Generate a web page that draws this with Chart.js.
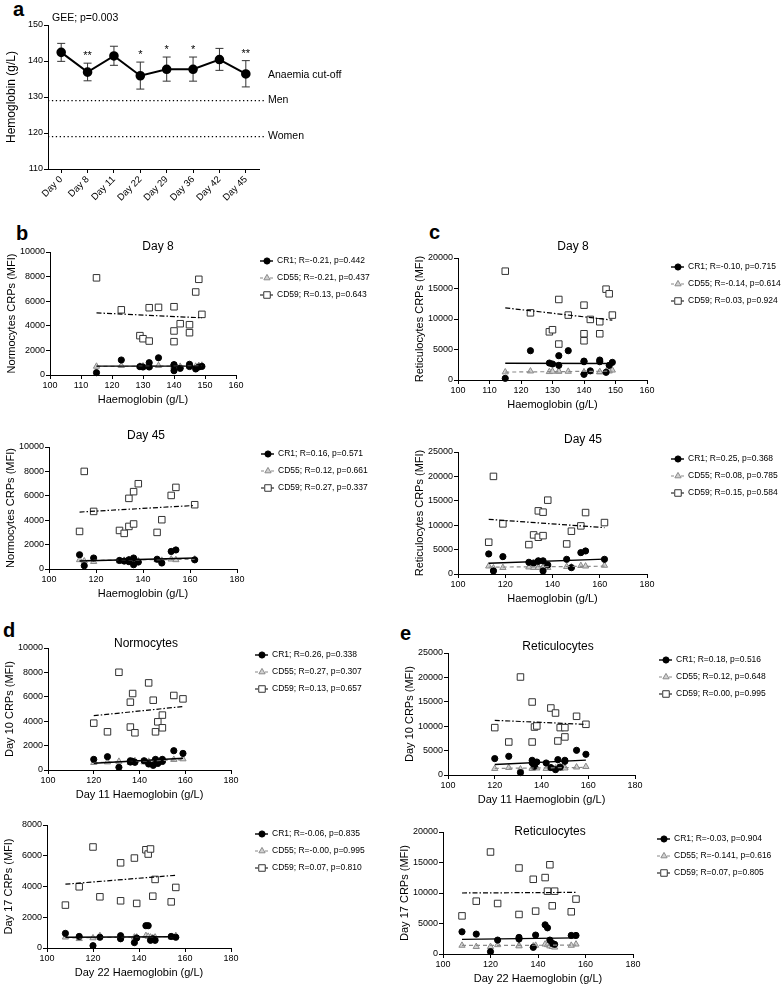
<!DOCTYPE html>
<html>
<head>
<meta charset="utf-8">
<title>Haemoglobin and complement regulatory proteins</title>
<script src="https://cdn.jsdelivr.net/npm/chart.js@4.4.1/dist/chart.umd.min.js"></script>
<style>
  html, body { margin: 0; padding: 0; background: #fff; }
  body { position: relative; width: 784px; height: 986px; overflow: hidden; font-family: "Liberation Sans", Arial, sans-serif; }
  .panel { position: absolute; }
  .letter { position: absolute; font-weight: bold; font-size: 20px; line-height: 20px; color: #000; }
</style>
</head>
<body>
<div class="letter" style="left:13px;top:-1px">a</div>
<div class="letter" style="left:16px;top:223px">b</div>
<div class="letter" style="left:429px;top:222px">c</div>
<div class="letter" style="left:3px;top:620px">d</div>
<div class="letter" style="left:400px;top:623px">e</div>
<script>
// ---- panel a: haemoglobin over time (mean with error bars) ----
const days = ["Day 0", "Day 8", "Day 11", "Day 22", "Day 29", "Day 36", "Day 42", "Day 45"];
const hbMean = [142.4, 136.9, 141.4, 135.9, 137.7, 137.7, 140.4, 136.4];
const hbLow = [139.9, 134.5, 138.8, 132.2, 134.4, 134.4, 137.4, 132.8];
const hbHigh = [144.9, 139.4, 144.1, 139.7, 141.1, 141.1, 143.5, 140.1];
const hbStars = ["", "**", "", "*", "*", "*", "", "**"];
const cutMen = 129;
const cutWomen = 119;

// ---- haemoglobin (g/L) of each subject ----
const hbDay8 = [115, 123, 129, 130, 132, 132, 135, 140, 140, 140, 142, 145, 145, 147, 148, 149];
const hbDay45 = [113, 115, 119, 130, 132, 134, 134, 136, 136, 138, 146, 148, 152, 154, 162];
const hbDay11 = [120, 126, 131, 136, 136, 137, 138, 142, 144, 146, 147, 148, 150, 150, 155, 159];
const hbDay22 = [108, 114, 120, 123, 132, 132, 138, 139, 143, 144, 145, 146, 147, 154, 156];

// ---- CRP expression (MFI), same subject order as the Hb arrays ----
const normoDay8CR1 = [190, 1220, 680, 650, 1000, 650, 1400, 800, 350, 840, 540, 870, 690, 490, 650, 700];
const normoDay8CD55 = [700, 760, 700, 720, 680, 720, 760, 650, 700, 720, 690, 700, 740, 700, 760, 780];
const normoDay8CD59 = [7900, 5300, 3200, 2950, 2760, 5470, 5500, 5550, 3580, 2710, 4170, 4090, 3440, 6750, 7780, 4930];

const reticDay8CR1 = [270, 4800, 2780, 2620, 3980, 2400, 4800, 3100, 930, 3000, 1500, 3270, 3000, 1260, 2400, 2890];
const reticDay8CD55 = [1300, 1450, 1350, 1400, 1400, 1450, 1400, 1250, 1200, 1300, 1350, 1300, 1350, 1400, 1450, 1600];
const reticDay8CD59 = [17840, 11010, 7900, 8240, 13200, 5890, 10640, 12270, 7580, 6430, 9930, 9550, 7580, 14890, 14130, 10640];

const normoDay45CR1 = [1170, 270, 900, 700, 650, 760, 600, 900, 350, 570, 800, 490, 1440, 1560, 750];
const normoDay45CD55 = [750, 650, 600, 650, 700, 750, 650, 800, 700, 650, 750, 700, 800, 750, 800];
const normoDay45CD59 = [3080, 8000, 4720, 3160, 2920, 5790, 3490, 6340, 3690, 6990, 3000, 4040, 6030, 6690, 5270];

const reticDay45CR1 = [4110, 620, 3560, 2400, 2250, 2600, 2700, 2700, 620, 1850, 3010, 1300, 4380, 4720, 3010];
const reticDay45CD55 = [1600, 1200, 1300, 1400, 1300, 1400, 1300, 1500, 1300, 1300, 1500, 1400, 1700, 1600, 1750];
const reticDay45CD59 = [6510, 20000, 10270, 6020, 8010, 12940, 7530, 12670, 7860, 15130, 6160, 8770, 9860, 12590, 10540];

const normoDay10CR1 = [870, 1090, 220, 760, 650, 700, 630, 760, 490, 380, 870, 540, 870, 700, 1580, 1360];
const normoDay10CD55 = [600, 650, 700, 650, 600, 700, 750, 650, 700, 750, 800, 700, 750, 800, 850, 900];
const normoDay10CD59 = [3840, 3130, 8010, 3520, 5560, 6270, 3050, null, 7140, 5720, 3130, 3950, 4500, 3460, 6110, 5830];

const reticDay10CR1 = [3360, 3830, 490, 3010, 2500, 1780, 2660, 2460, 1520, 1100, 3150, 1640, 3010, 2800, 5060, 4240];
const reticDay10CD55 = [1300, 1500, 1200, 1400, 1300, 1500, 1400, 1300, 1500, 1400, 1600, 1300, 1500, 1400, 1600, 1700];
const reticDay10CD59 = [9710, 6760, 20080, 14960, 6760, 9830, 10050, null, 13730, 12700, 6970, 9710, 9710, 7800, 12030, 10390];

const normoDay17CR1 = [950, 750, 150, 700, 800, 600, 350, 650, 1450, 1450, 500, 600, 500, 750, 700];
const normoDay17CD55 = [700, 600, 650, 800, 700, 650, 700, 700, 800, 750, 700, 650, 700, 700, 800];
const normoDay17CD59 = [2790, 3980, 6570, 3330, 3070, 5540, 5850, 2900, 6390, 6110, 6440, 3370, 4460, 3000, 3940];

const reticDay17CR1 = [3640, 3260, 380, 2280, 2720, 2450, 1090, 3100, 4780, 4290, 2280, 1740, 1580, 3040, 3040];
const reticDay17CD55 = [1400, 1200, 1200, 1500, 1400, 1300, 1300, 1400, 1600, 1500, 1300, 1200, 1100, 1400, 1600];
const reticDay17CD59 = [6250, 8660, 16720, 8280, 14100, 6480, 12250, 7030, 12530, 10300, 14630, 7900, 10300, 6920, 9000];

// regression lines: value at lowest Hb, value at highest Hb (CR1, CD55, CD59)
const fitNormoDay8 = [[720, 720], [700, 740], [5050, 4650]];
const fitReticDay8 = [[2750, 2700], [1300, 1450], [11830, 9820]];
const fitNormoDay45 = [[650, 900], [700, 800], [4670, 5210]];
const fitReticDay45 = [[2200, 3050], [1400, 1600], [11200, 9500]];
const fitNormoDay10 = [[550, 960], [600, 850], [4450, 5200]];
const fitReticDay10 = [[2150, 3050], [1350, 1550], [11200, 10380]];
const fitNormoDay17 = [[700, 730], [650, 750], [4150, 4730]];
const fitReticDay17 = [[2400, 2650], [1400, 1450], [10000, 10100]];

// legend texts
const legNormoDay8 = ["CR1; R=-0.21, p=0.442", "CD55; R=-0.21, p=0.437", "CD59; R=0.13, p=0.643"];
const legReticDay8 = ["CR1; R=-0.10, p=0.715", "CD55; R=-0.14, p=0.614", "CD59; R=0.03, p=0.924"];
const legNormoDay45 = ["CR1; R=0.16, p=0.571", "CD55; R=0.12, p=0.661", "CD59; R=0.27, p=0.337"];
const legReticDay45 = ["CR1; R=0.25, p=0.368", "CD55; R=0.08, p=0.785", "CD59; R=0.15, p=0.584"];
const legNormoDay10 = ["CR1; R=0.26, p=0.338", "CD55; R=0.27, p=0.307", "CD59; R=0.13, p=0.657"];
const legReticDay10 = ["CR1; R=0.18, p=0.516", "CD55; R=0.12, p=0.648", "CD59; R=0.00, p=0.995"];
const legNormoDay17 = ["CR1; R=-0.06, p=0.835", "CD55; R=-0.00, p=0.995", "CD59; R=0.07, p=0.810"];
const legReticDay17 = ["CR1; R=-0.03, p=0.904", "CD55; R=-0.141, p=0.616", "CD59; R=0.07, p=0.805"];

const FAM = '"Liberation Sans", Arial, Helvetica, sans-serif';
Chart.defaults.font.family = FAM;
Chart.defaults.font.weight = "normal";
Chart.defaults.color = "#000";

const KINDS = ["cr1", "cd55", "cd59"];
const LOOK = {
    cr1: { point: "circle", radius: 3.1, fill: "#000", edge: "#000", line: "#000", dash: [], lw: 1.4 },
    cd55: { point: "triangle", radius: 3.6, fill: "#d2d2d2", edge: "#8a8a8a", line: "#8a8a8a", dash: [4, 3], lw: 1.2 },
    cd59: { point: "rect", radius: 4.6, fill: "#fff", edge: "#333", line: "#000", dash: [5, 2, 1.5, 2], lw: 1.2 }
};

// same shapes as Chart.js point styles, used for the legend keys
function drawMarker(ctx, kind, x, y) {
    const s = LOOK[kind];
    const r = s.radius;
    ctx.save();
    ctx.setLineDash([]);
    ctx.fillStyle = s.fill;
    ctx.strokeStyle = s.edge;
    ctx.lineWidth = 1;
    ctx.beginPath();
    if (s.point === "circle") {
        ctx.arc(x, y, r, 0, Math.PI * 2);
    } else if (s.point === "triangle") {
        ctx.moveTo(x, y - r);
        ctx.lineTo(x + r * 0.866, y + r / 2);
        ctx.lineTo(x - r * 0.866, y + r / 2);
        ctx.closePath();
    } else {
        const h = r * Math.SQRT1_2;
        ctx.rect(x - h, y - h, 2 * h, 2 * h);
    }
    ctx.fill();
    ctx.stroke();
    ctx.restore();
}

function axis(min, max, step, title, titleSize) {
    return {
        type: "linear",
        min: min,
        max: max,
        ticks: { stepSize: step, font: { size: 9 }, padding: 1, maxRotation: 0, callback: v => String(v) },
        grid: { drawOnChartArea: false, tickLength: 4, color: "#000", lineWidth: 1 },
        border: { color: "#000", width: 1 },
        title: { display: true, text: title, font: { size: titleSize || 11, weight: "normal" } }
    };
}

// ---- panel a ----
function drawPanelA() {
    const W = 48, T = 25, R = 125, B = 60;
    const box = [48, 25, 259, 169];
    const div = document.createElement("div");
    div.className = "panel";
    div.style.left = (box[0] - W) + "px";
    div.style.top = (box[1] - T) + "px";
    div.style.width = (W + box[2] - box[0] + R) + "px";
    div.style.height = (T + box[3] - box[1] + B) + "px";
    const cv = document.createElement("canvas");
    div.appendChild(cv);
    document.body.appendChild(div);

    const extras = {
        id: "panelAExtras",
        beforeDatasetsDraw(chart) {
            const { ctx, chartArea } = chart;
            const x = chart.scales.x, y = chart.scales.y;
            ctx.save();
            ctx.strokeStyle = "#333";
            ctx.lineWidth = 1;
            days.forEach((d, i) => {
                const px = x.getPixelForValue(i);
                const lo = y.getPixelForValue(hbLow[i]);
                const hi = y.getPixelForValue(hbHigh[i]);
                ctx.beginPath();
                ctx.moveTo(px, lo); ctx.lineTo(px, hi);
                ctx.moveTo(px - 4, lo); ctx.lineTo(px + 4, lo);
                ctx.moveTo(px - 4, hi); ctx.lineTo(px + 4, hi);
                ctx.stroke();
            });
            ctx.strokeStyle = "#000";
            ctx.lineWidth = 1.3;
            ctx.setLineDash([1.3, 2.6]);
            [cutMen, cutWomen].forEach(v => {
                const py = y.getPixelForValue(v);
                ctx.beginPath();
                ctx.moveTo(chartArea.left, py);
                ctx.lineTo(chartArea.right + 5, py);
                ctx.stroke();
            });
            ctx.restore();
        },
        afterDraw(chart) {
            const { ctx, chartArea } = chart;
            const x = chart.scales.x, y = chart.scales.y;
            ctx.save();
            ctx.fillStyle = "#000";
            ctx.font = "11px " + FAM;
            ctx.textAlign = "center";
            ctx.textBaseline = "alphabetic";
            hbStars.forEach((s, i) => {
                if (!s) return;
                ctx.fillText(s, x.getPixelForValue(i), y.getPixelForValue(hbHigh[i]) - 4);
            });
            ctx.font = "10.5px " + FAM;
            ctx.textAlign = "left";
            ctx.textBaseline = "middle";
            const lx = chartArea.right + 9;
            ctx.fillText("Anaemia cut-off", lx, y.getPixelForValue(cutMen) - 25);
            ctx.fillText("Men", lx, y.getPixelForValue(cutMen));
            ctx.fillText("Women", lx, y.getPixelForValue(cutWomen));
            ctx.fillText("GEE; p=0.003", chartArea.left + 4, chartArea.top - 7);
            ctx.restore();
        }
    };

    const yAx = axis(110, 150, 10, "Hemoglobin (g/L)", 12);
    yAx.afterFit = s => { s.width = W; };
    new Chart(cv, {
        type: "line",
        data: {
            labels: days,
            datasets: [{
                data: hbMean,
                borderColor: "#000",
                backgroundColor: "#000",
                borderWidth: 2,
                pointRadius: 3.8,
                pointBackgroundColor: "#000",
                tension: 0,
                clip: false
            }]
        },
        options: {
            responsive: true,
            maintainAspectRatio: false,
            animation: false,
            layout: { padding: { left: 0, top: T, right: R, bottom: 0 } },
            plugins: { legend: { display: false }, tooltip: { enabled: false } },
            scales: {
                x: {
                    type: "category",
                    offset: true,
                    ticks: { font: { size: 9.5 }, padding: 1, minRotation: 45, maxRotation: 45 },
                    grid: { offset: false, drawOnChartArea: false, tickLength: 4, color: "#000" },
                    border: { color: "#000", width: 1 },
                    afterFit: s => { s.height = B; }
                },
                y: yAx
            }
        },
        plugins: [extras]
    });
}

// ---- scatter panels ----
function pairs(hb, vals) {
    return hb.map((h, i) => ({ x: h, y: vals[i] })).filter(p => p.y !== null);
}

function drawScatter(p) {
    const W = 49, T = 22, R = 165, B = 36;
    const [l, t, r, b] = p.box;
    const ox = l - W, oy = t - T;
    const div = document.createElement("div");
    div.className = "panel";
    div.style.left = ox + "px";
    div.style.top = oy + "px";
    div.style.width = (W + r - l + R) + "px";
    div.style.height = (T + b - t + B) + "px";
    const cv = document.createElement("canvas");
    div.appendChild(cv);
    document.body.appendChild(div);

    const lo = Math.min(...p.hb), hi = Math.max(...p.hb);
    const sets = [];
    KINDS.forEach((k, i) => {
        const s = LOOK[k];
        sets.push({
            data: [{ x: lo, y: p.fit[i][0] }, { x: hi, y: p.fit[i][1] }],
            showLine: true,
            pointRadius: 0,
            borderColor: s.line,
            borderWidth: s.lw,
            borderDash: s.dash,
            clip: false
        });
    });
    KINDS.forEach((k, i) => {
        const s = LOOK[k];
        sets.push({
            data: pairs(p.hb, p.vals[i]),
            pointStyle: s.point,
            pointRadius: s.radius,
            pointBackgroundColor: s.fill,
            pointBorderColor: s.edge,
            pointBorderWidth: 1,
            clip: false
        });
    });

    const extras = {
        id: "scatterText",
        afterDraw(chart) {
            const { ctx, chartArea } = chart;
            ctx.save();
            ctx.fillStyle = "#000";
            if (p.title) {
                ctx.font = "12px " + FAM;
                ctx.textAlign = "center";
                ctx.textBaseline = "middle";
                ctx.fillText(p.title, p.titleAt[0] - ox, p.titleAt[1] - oy);
            }
            const x0 = chartArea.right + 24;
            p.legend.forEach((txt, i) => {
                const k = KINDS[i], s = LOOK[k];
                const y = p.legendY - oy + i * 17;
                ctx.save();
                ctx.strokeStyle = s.line;
                ctx.lineWidth = s.lw;
                ctx.setLineDash(s.dash.length ? [3, 2] : []);
                ctx.beginPath();
                ctx.moveTo(x0, y);
                ctx.lineTo(x0 + 13, y);
                ctx.stroke();
                ctx.restore();
                drawMarker(ctx, k, x0 + 7, y);
                ctx.font = "8.5px " + FAM;
                ctx.textAlign = "left";
                ctx.textBaseline = "middle";
                ctx.fillStyle = "#000";
                ctx.fillText(txt, x0 + 17, y);
            });
            ctx.restore();
        }
    };

    const xAx = axis(p.x[0], p.x[1], p.x[2], p.xTitle);
    xAx.afterFit = s => { s.height = B; };
    const yAx = axis(0, p.y[0], p.y[1], p.yTitle);
    yAx.afterFit = s => { s.width = W; };

    new Chart(cv, {
        type: "scatter",
        data: { datasets: sets },
        options: {
            responsive: true,
            maintainAspectRatio: false,
            animation: false,
            layout: { padding: { left: 0, top: T, right: R, bottom: 0 } },
            plugins: { legend: { display: false }, tooltip: { enabled: false } },
            scales: { x: xAx, y: yAx }
        },
        plugins: [extras]
    });
}

drawPanelA();

drawScatter({
    box: [50, 252, 236, 375], x: [100, 160, 10], y: [10000, 2000],
    title: "Day 8", titleAt: [158, 247], xTitle: "Haemoglobin (g/L)", yTitle: "Normocytes CRPs (MFI)",
    hb: hbDay8, vals: [normoDay8CR1, normoDay8CD55, normoDay8CD59], fit: fitNormoDay8,
    legend: legNormoDay8, legendY: 261
});
drawScatter({
    box: [458, 258, 647, 380], x: [100, 160, 10], y: [20000, 5000],
    title: "Day 8", titleAt: [573, 247], xTitle: "Haemoglobin (g/L)", yTitle: "Reticulocytes CRPs (MFI)",
    hb: hbDay8, vals: [reticDay8CR1, reticDay8CD55, reticDay8CD59], fit: fitReticDay8,
    legend: legReticDay8, legendY: 267
});
drawScatter({
    box: [49, 447, 237, 569], x: [100, 180, 20], y: [10000, 2000],
    title: "Day 45", titleAt: [146, 436], xTitle: "Haemoglobin (g/L)", yTitle: "Normocytes CRPs (MFI)",
    hb: hbDay45, vals: [normoDay45CR1, normoDay45CD55, normoDay45CD59], fit: fitNormoDay45,
    legend: legNormoDay45, legendY: 454
});
drawScatter({
    box: [458, 452, 647, 574], x: [100, 180, 20], y: [25000, 5000],
    title: "Day 45", titleAt: [583, 440], xTitle: "Haemoglobin (g/L)", yTitle: "Reticulocytes CRPs (MFI)",
    hb: hbDay45, vals: [reticDay45CR1, reticDay45CD55, reticDay45CD59], fit: fitReticDay45,
    legend: legReticDay45, legendY: 459
});
drawScatter({
    box: [48, 648, 231, 770], x: [100, 180, 20], y: [10000, 2000],
    title: "Normocytes", titleAt: [146, 644], xTitle: "Day 11 Haemoglobin (g/L)", yTitle: "Day 10 CRPs (MFI)",
    hb: hbDay11, vals: [normoDay10CR1, normoDay10CD55, normoDay10CD59], fit: fitNormoDay10,
    legend: legNormoDay10, legendY: 655
});
drawScatter({
    box: [448, 653, 635, 775], x: [100, 180, 20], y: [25000, 5000],
    title: "Reticulocytes", titleAt: [558, 647], xTitle: "Day 11 Haemoglobin (g/L)", yTitle: "Day 10 CRPs (MFI)",
    hb: hbDay11, vals: [reticDay10CR1, reticDay10CD55, reticDay10CD59], fit: fitReticDay10,
    legend: legReticDay10, legendY: 660
});
drawScatter({
    box: [47, 825, 231, 948], x: [100, 180, 20], y: [8000, 2000],
    title: "", titleAt: [0, 0], xTitle: "Day 22 Haemoglobin (g/L)", yTitle: "Day 17 CRPs (MFI)",
    hb: hbDay22, vals: [normoDay17CR1, normoDay17CD55, normoDay17CD59], fit: fitNormoDay17,
    legend: legNormoDay17, legendY: 834
});
drawScatter({
    box: [443, 832, 633, 954], x: [100, 180, 20], y: [20000, 5000],
    title: "Reticulocytes", titleAt: [550, 832], xTitle: "Day 22 Haemoglobin (g/L)", yTitle: "Day 17 CRPs (MFI)",
    hb: hbDay22, vals: [reticDay17CR1, reticDay17CD55, reticDay17CD59], fit: fitReticDay17,
    legend: legReticDay17, legendY: 839
});
</script>
</body>
</html>
